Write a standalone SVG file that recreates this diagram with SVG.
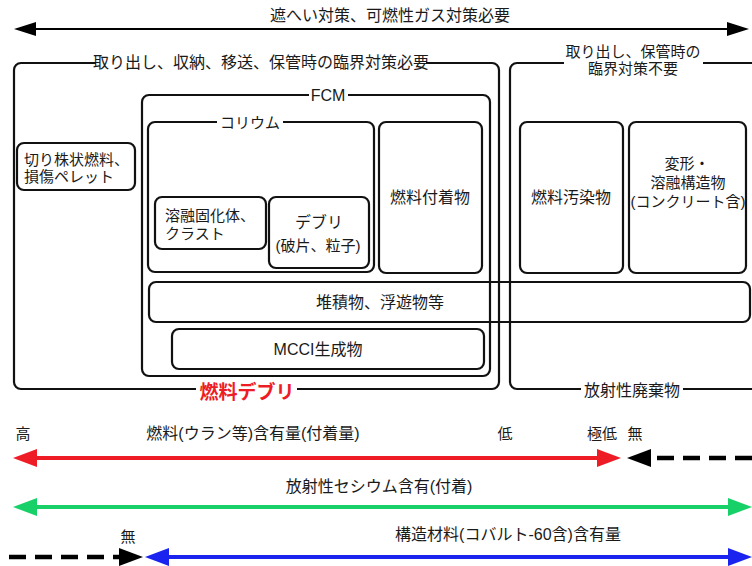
<svg xmlns="http://www.w3.org/2000/svg" width="752" height="566" viewBox="0 0 752 566">
<style>
text{font-family:"Liberation Sans","Noto Sans CJK JP",sans-serif;fill:#1a1a1a;dominant-baseline:central}
.box{fill:none;stroke:#111;stroke-width:2.2}
.bg{fill:#fff}
.t15{font-size:15px}
.t16{font-size:16px}
.c{text-anchor:middle}
.red{fill:#ee1c25;font-weight:bold;font-size:19px}
</style>
<defs>
<marker id="ahBlack" markerUnits="userSpaceOnUse" markerWidth="22" markerHeight="14" refX="12" refY="7" orient="auto-start-reverse"><path d="M0,0 L22,7 L0,14 z" fill="#000"/></marker>
<marker id="ahRed" markerUnits="userSpaceOnUse" markerWidth="24" markerHeight="18" refX="12" refY="9" orient="auto-start-reverse"><path d="M0,0 L24,9 L0,18 z" fill="#ee1c25"/></marker>
<marker id="ahGreen" markerUnits="userSpaceOnUse" markerWidth="24" markerHeight="18" refX="12" refY="9" orient="auto-start-reverse"><path d="M0,0 L24,9 L0,18 z" fill="#18d068"/></marker>
<marker id="ahBlue" markerUnits="userSpaceOnUse" markerWidth="24" markerHeight="18" refX="12" refY="9" orient="auto-start-reverse"><path d="M0,0 L24,9 L0,18 z" fill="#1a24ee"/></marker>
<marker id="ahBlackBig" markerUnits="userSpaceOnUse" markerWidth="24" markerHeight="18" refX="12" refY="9" orient="auto-start-reverse"><path d="M0,0 L24,9 L0,18 z" fill="#000"/></marker>
</defs>
<rect width="752" height="566" fill="#fff"/>

<g id="connectors">
<line x1="24" y1="29" x2="739" y2="29" stroke="#000" stroke-width="2" marker-start="url(#ahBlack)" marker-end="url(#ahBlack)"/>
<line x1="25" y1="458" x2="609" y2="458" stroke="#ee1c25" stroke-width="4" marker-start="url(#ahRed)" marker-end="url(#ahRed)"/>
<line x1="752" y1="458" x2="639" y2="458" stroke="#000" stroke-width="4.5" stroke-dasharray="17,9" marker-end="url(#ahBlackBig)"/>
<line x1="25" y1="507" x2="740" y2="507" stroke="#18d068" stroke-width="4" marker-start="url(#ahGreen)" marker-end="url(#ahGreen)"/>
<line x1="9" y1="557" x2="131" y2="557" stroke="#000" stroke-width="4.5" stroke-dasharray="17,9" marker-end="url(#ahBlackBig)"/>
<line x1="157" y1="557" x2="740" y2="557" stroke="#1a24ee" stroke-width="4" marker-start="url(#ahBlue)" marker-end="url(#ahBlue)"/>
</g>

<g id="title">
<text class="t16 c" x="390" y="15">遮へい対策、可燃性ガス対策必要</text>
</g>

<g id="critical-needed">
<rect class="box" x="14" y="63" width="485" height="326" rx="7"/>
<rect class="bg" x="96" y="54" width="330" height="17"/>
<text class="t16 c" x="261" y="62">取り出し、収納、移送、保管時の臨界対策必要</text>
</g>

<g id="critical-not-needed">
<rect class="box" x="510" y="63" width="262" height="326" rx="7"/>
<rect class="bg" x="564" y="42" width="139" height="34"/>
<text class="t15 c" x="633" y="51">取り出し、保管時の</text>
<text class="t15 c" x="633" y="68">臨界対策不要</text>
<rect class="bg" x="581" y="381" width="102" height="18"/>
<text class="t16 c" x="632" y="390">放射性廃棄物</text>
</g>

<g id="fcm">
<rect class="box" x="142" y="95" width="348" height="281" rx="7"/>
<rect class="bg" x="309" y="87" width="39" height="16"/>
<text class="t16 c" x="328" y="95">FCM</text>
</g>

<g id="corium">
<rect class="box" x="148" y="122" width="226" height="150" rx="7"/>
<rect class="bg" x="217" y="114" width="66" height="16"/>
<text class="t15 c" x="250" y="122">コリウム</text>
</g>

<g id="solidified">
<rect class="box" x="155" y="197" width="111" height="52" rx="7"/>
<text class="t15" x="165" y="215">溶融固化体、</text>
<text class="t15" x="165" y="233">クラスト</text>
</g>

<g id="debris">
<rect class="box" x="269" y="197" width="100" height="71" rx="7"/>
<text class="t16 c" x="319" y="222">デブリ</text>
<text class="t15 c" x="318" y="245">(破片、粒子)</text>
</g>

<g id="fuel-attached">
<rect class="box" x="379" y="122" width="103" height="151" rx="7"/>
<text class="t16 c" x="430" y="197">燃料付着物</text>
</g>

<g id="stub-fuel">
<rect class="box" x="17" y="143" width="118" height="47" rx="7"/>
<text class="t15" x="24" y="159">切り株状燃料、</text>
<text class="t15" x="24" y="176">損傷ペレット</text>
</g>

<g id="fuel-contaminated">
<rect class="box" x="520" y="122" width="103" height="151" rx="7"/>
<text class="t16 c" x="571" y="197">燃料汚染物</text>
</g>

<g id="deformed">
<rect class="box" x="629" y="122" width="117" height="151" rx="7"/>
<text class="t15 c" x="687" y="163">変形・</text>
<text class="t15 c" x="688" y="182">溶融構造物</text>
<text class="t15 c" x="688" y="201">(コンクリート含)</text>
</g>

<g id="sediment">
<rect class="box" x="149" y="282" width="601" height="40" rx="7"/>
<text class="t16 c" x="380" y="302">堆積物、浮遊物等</text>
</g>

<g id="mcci">
<rect class="box" x="172" y="329" width="312" height="40" rx="7"/>
<text class="t16 c" x="318" y="349">MCCI生成物</text>
</g>

<g id="fuel-debris-label">
<rect class="bg" x="196" y="381" width="101" height="22"/>
<text class="red c" x="247" y="392">燃料デブリ</text>
</g>

<g id="scales">
<text class="t15 c" x="23" y="433">高</text>
<text class="t16 c" x="253" y="433">燃料(ウラン等)含有量(付着量)</text>
<text class="t15 c" x="505" y="433">低</text>
<text class="t15 c" x="602" y="433">極低</text>
<text class="t15 c" x="635" y="433">無</text>
<text class="t16 c" x="379" y="486">放射性セシウム含有(付着)</text>
<text class="t15 c" x="128" y="536">無</text>
<text class="t16 c" x="508" y="534">構造材料(コバルト-60含)含有量</text>
</g>
</svg>
